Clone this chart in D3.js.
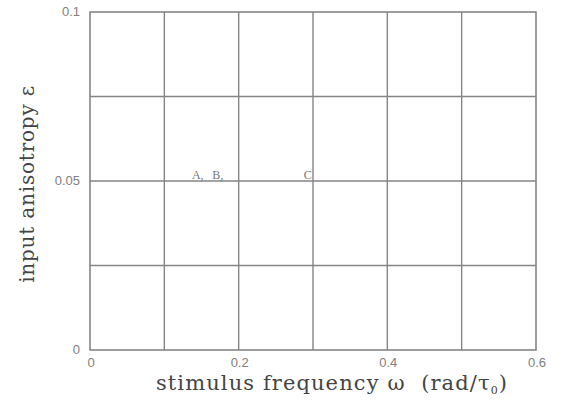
<!DOCTYPE html>
<meta charset="utf-8">
<script src="https://d3js.org/d3.v7.min.js"></script>
<style>
    body { margin: 0; background: #fff; }
    .tick-label { font-family: "Liberation Sans", Arial, sans-serif; font-size: 13px; fill: #808080; }
    .title { font-family: "DejaVu Serif", "Liberation Serif", serif; font-size: 20px; fill: #444; letter-spacing: 0.8px; }
    .xtitle { font-size: 21px; letter-spacing: 1.1px; }
    .pt { font-family: "Liberation Serif", serif; font-size: 12px; fill: #777; }
</style>
<div id="viz_area"></div>
<script>
    // axis ticks
    var xTicks = [0, 0.2, 0.4, 0.6]
    var xTickLabels = ["0", "0.2", "0.4", "0.6"]
    var yTicks = [0, 0.05, 0.1]
    var yTickLabels = ["0", "0.05", "0.1"]
    // grid lines
    var xGrid = [0.1, 0.2, 0.3, 0.4, 0.5]
    var yGrid = [0.025, 0.05, 0.075]
    // labelled points
    var ptLabels = ["A,", "B,", "C"]
    var ptOmega = [0.145, 0.172, 0.293]
    var ptEps = [0.05, 0.05, 0.05]

    var W = 564, H = 403
    var margin = { left: 90, top: 12, right: 28, bottom: 53 }
    var w = W - margin.left - margin.right
    var h = H - margin.top - margin.bottom

    var svg = d3.select("#viz_area").append("svg")
        .attr("width", W).attr("height", H)
    var g = svg.append("g")
        .attr("transform", "translate(" + margin.left + "," + margin.top + ")")

    var x = d3.scaleLinear().domain([0, 0.6]).range([0, w])
    var y = d3.scaleLinear().domain([0, 0.1]).range([h, 0])

    var lineCol = "#858585"

    // grid
    g.selectAll(".vgrid").data(xGrid).enter().append("line")
        .attr("x1", d => x(d)).attr("x2", d => x(d))
        .attr("y1", 0).attr("y2", h)
        .attr("stroke", lineCol).attr("stroke-width", 1.4)
    g.selectAll(".hgrid").data(yGrid).enter().append("line")
        .attr("x1", 0).attr("x2", w)
        .attr("y1", d => y(d)).attr("y2", d => y(d))
        .attr("stroke", lineCol).attr("stroke-width", 1.4)

    // frame
    g.append("rect")
        .attr("x", 0).attr("y", 0).attr("width", w).attr("height", h)
        .attr("fill", "none").attr("stroke", lineCol).attr("stroke-width", 1.6)

    // tick labels
    g.selectAll(".xt").data(xTicks).enter().append("text")
        .attr("class", "tick-label")
        .attr("x", d => x(d) + 1).attr("y", h + 17)
        .attr("text-anchor", "middle")
        .text((d, i) => xTickLabels[i])
    g.selectAll(".yt").data(yTicks).enter().append("text")
        .attr("class", "tick-label")
        .attr("x", -10).attr("y", d => y(d) + 4)
        .attr("text-anchor", "end")
        .text((d, i) => yTickLabels[i])

    // point labels
    g.selectAll(".pt").data(ptLabels).enter().append("text")
        .attr("class", "pt")
        .attr("x", (d, i) => x(ptOmega[i])).attr("y", (d, i) => y(ptEps[i]) - 2)
        .attr("text-anchor", "middle")
        .text(d => d)

    // axis titles
    var xt = svg.append("text")
        .attr("class", "title xtitle")
        .attr("x", 332).attr("y", 390)
        .attr("text-anchor", "middle")
    xt.append("tspan").text("stimulus frequency ω\u00a0\u00a0(rad/τ")
    xt.append("tspan").attr("font-size", "11px").attr("dy", 4).text("0")
    xt.append("tspan").attr("dy", -4).text(")")

    svg.append("text")
        .attr("class", "title")
        .attr("transform", "translate(34,184) rotate(-90)")
        .attr("text-anchor", "middle")
        .text("input anisotropy ε")
</script>
